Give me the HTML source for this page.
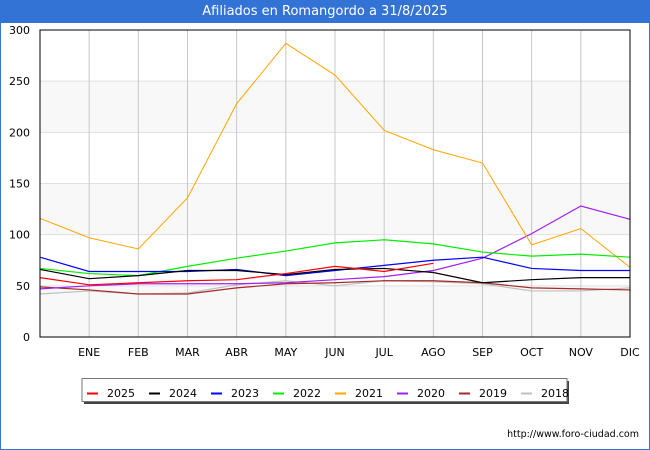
<!DOCTYPE html>
<html><head><meta charset="utf-8"><style>
body{margin:0;width:650px;height:450px;overflow:hidden;background:#fff;font-family:"Liberation Sans","DejaVu Sans",sans-serif}
#wrap{position:absolute;left:0;top:0;width:648px;height:448px;border:1px solid #3473d6}
#title{position:absolute;left:0;top:0;width:650px;height:23px;background:#3473d6;color:#fff;font-size:13px;line-height:23px;text-align:center;font-family:"DejaVu Sans",sans-serif}
</style></head><body>
<div id="wrap"></div>
<div id="title">Afiliados en Romangordo a 31/8/2025</div>
<svg id="chart" width="650" height="450" style="position:absolute;left:0;top:0"></svg>
<script>
const months=["","ENE","FEB","MAR","ABR","MAY","JUN","JUL","AGO","SEP","OCT","NOV","DIC"];
const yTicks=[0,50,100,150,200,250,300];
const years=["2025","2024","2023","2022","2021","2020","2019","2018"];
const colors=["#ff0000","#000000","#0000ff","#00ee00","#ffa500","#a020f0","#a52a2a","#c0c0c0"];
const s2025=[58,51,53,55,56,62,69,64,72];
const s2024=[66,57,60,65,65,61,66,67,63,53,56,58,58];
const s2023=[78,64,64,64,66,60,65,70,75,78,67,65,65];
const s2022=[67,62,60,69,77,84,92,95,91,83,79,81,78];
const s2021=[116,97,86,136,228,287,256,202,183,170,90,106,68];
const s2020=[47,50,52,52,52,53,56,59,65,77,101,128,115];
const s2019=[49,46,42,42,48,52,53,55,55,53,48,47,46];
const s2018=[42,45,42,43,51,55,50,55,54,52,45,45,48];
const series=[s2025,s2024,s2023,s2022,s2021,s2020,s2019,s2018];
const NS="http://www.w3.org/2000/svg",svg=document.getElementById('chart');
const L=40,R=630,T=30,B=337;
const x=i=>L+i*(R-L)/12, y=v=>B-v*(B-T)/300;
function mk(t,a){const e=document.createElementNS(NS,t);for(const k in a)e.setAttribute(k,a[k]);svg.appendChild(e);return e;}
for(let k=0;k<6;k++){if(k%2===0){const r=mk('rect',{x:L,y:y(yTicks[k+1]),width:R-L,height:y(yTicks[k])-y(yTicks[k+1]),fill:'#f8f8f8'});

}}
yTicks.forEach(v=>{const g=mk('line',{x1:L,x2:R,y1:y(v),y2:y(v),stroke:'#e0e0e0'});


const t=mk('text',{x:L-10,y:y(v)+4,'text-anchor':'end','font-size':'11','font-family':'DejaVu Sans, sans-serif',fill:'#000'});t.textContent=v;

});
months.forEach((m,i)=>{if(i>0){const g=mk('line',{x1:x(i),x2:x(i),y1:T,y2:B,stroke:'#c8c8c8'});


const t=mk('text',{x:x(i),y:356,'text-anchor':'middle','font-size':'11','font-family':'DejaVu Sans, sans-serif',fill:'#000'});t.textContent=m;

}});
for(let s=series.length-1;s>=0;s--){const p=mk('polyline',{points:series[s].map((v,i)=>x(i)+','+y(v)).join(' '),fill:'none',stroke:colors[s],'stroke-width':s==4?1:1.2});

}
const f=mk('rect',{x:L,y:T,width:R-L,height:B-T,fill:'none',stroke:'#000'});


const sh=mk('rect',{x:84,y:381,width:485,height:23,fill:'#444'});


const lb=mk('rect',{x:82,y:378.5,width:485,height:23,fill:'#fff',stroke:'#777'});


years.forEach((yr,i)=>{const lx=87+i*62;
const ln=mk('line',{x1:lx,x2:lx+11,y1:393.5,y2:393.5,stroke:colors[i],'stroke-width':2});


const t=mk('text',{x:lx+20,y:397,'font-size':'11','font-family':'DejaVu Sans, sans-serif',fill:'#000'});t.textContent=yr;

});
const u=mk('text',{x:639,y:437,'text-anchor':'end','font-size':'9.5','font-family':'DejaVu Sans, sans-serif',fill:'#000'});u.textContent='http://www.foro-ciudad.com';


</script>
</body></html>
